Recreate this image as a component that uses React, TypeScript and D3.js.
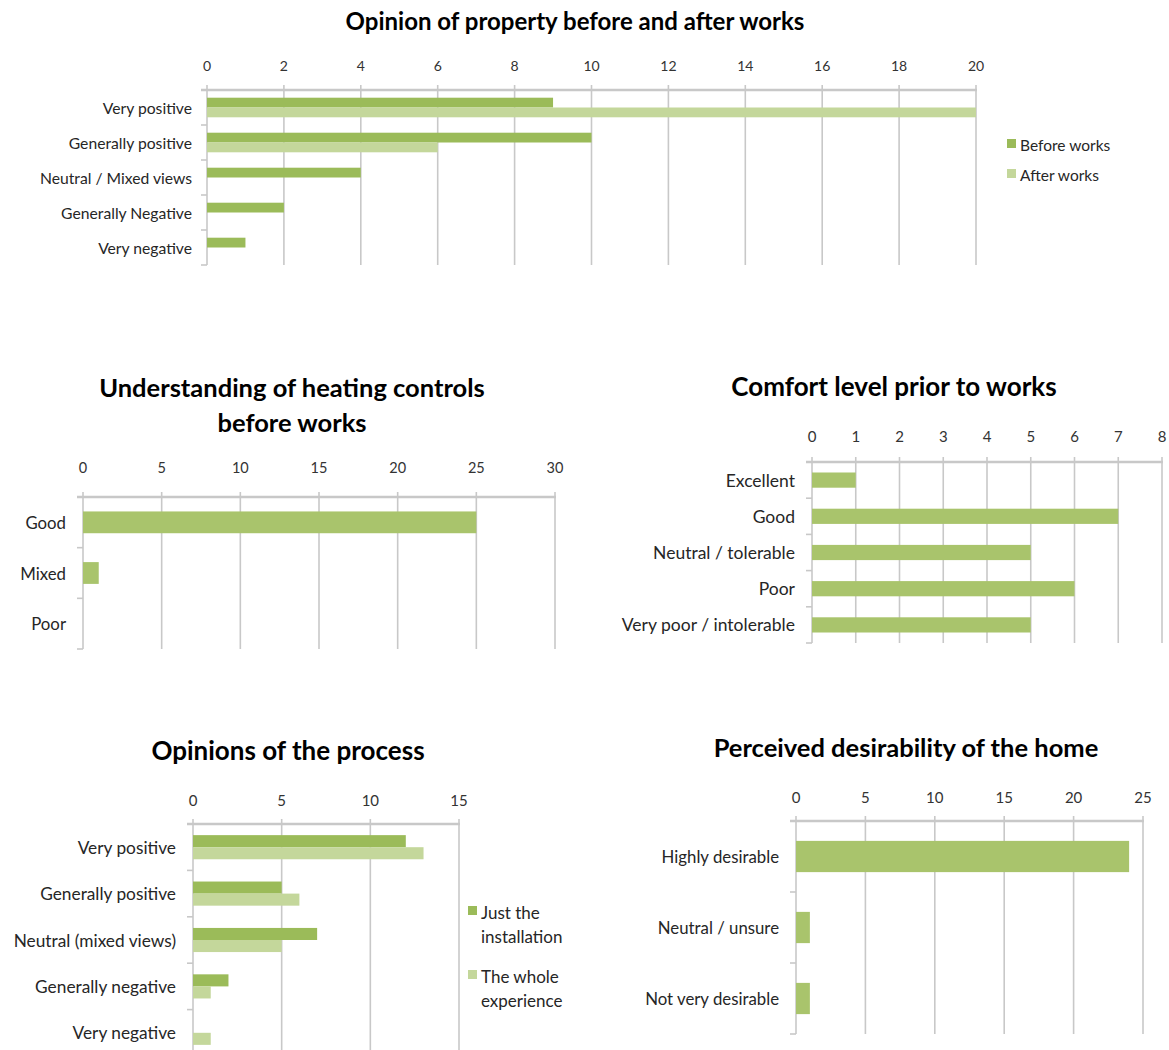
import React from "react";
import * as d3 from "d3";

// ---- Opinion of property before and after works ----
const opinionCategories = ["Very positive", "Generally positive", "Neutral / Mixed views", "Generally Negative", "Very negative"];
const opinionBefore = [9, 10, 4, 2, 1];
const opinionAfter = [20, 6, 0, 0, 0];
const opinionTicks = [0, 2, 4, 6, 8, 10, 12, 14, 16, 18, 20];
const opinionSeries = ["Before works", "After works"];

// ---- Understanding of heating controls before works ----
const controlsCategories = ["Good", "Mixed", "Poor"];
const controlsValues = [25, 1, 0];
const controlsTicks = [0, 5, 10, 15, 20, 25, 30];

// ---- Comfort level prior to works ----
const comfortCategories = ["Excellent", "Good", "Neutral / tolerable", "Poor", "Very poor / intolerable"];
const comfortValues = [1, 7, 5, 6, 5];
const comfortTicks = [0, 1, 2, 3, 4, 5, 6, 7, 8];

// ---- Opinions of the process ----
const processCategories = ["Very positive", "Generally positive", "Neutral (mixed views)", "Generally negative", "Very negative"];
const processInstallation = [12, 5, 7, 2, 0];
const processWhole = [13, 6, 5, 1, 1];
const processTicks = [0, 5, 10, 15];
const processSeries = [["Just the", "installation"], ["The whole", "experience"]];

// ---- Perceived desirability of the home ----
const desirCategories = ["Highly desirable", "Neutral / unsure", "Not very desirable"];
const desirValues = [24, 1, 1];
const desirTicks = [0, 5, 10, 15, 20, 25];

const DARK = "#9bbb59";
const LIGHT = "#c4d79b";
const SINGLE = "#a9c46c";
const GRID = "#c8c8c8";
const FONT = "Lato, 'Open Sans', sans-serif";

type PanelProps = {
  title: string[];
  titleX: number;
  titleY: number;
  titleSize: number;
  labelSize: number;
  tickSize: number;
  legendSize?: number;
  categories: string[];
  series: number[][];
  colors: string[];
  ticks: number[];
  x0: number;
  x1: number;
  top: number;
  bottom: number;
  tickY: number;
  labelX: number;
  groupFrac: number;
  legend?: { x: number; ys: number[]; labels: string[][]; lineGap: number };
};

function Panel(p: PanelProps) {
  const xMax = p.ticks[p.ticks.length - 1];
  const x = d3.scaleLinear().domain([0, xMax]).range([p.x0, p.x1]);
  const y = d3.scaleBand<string>().domain(p.categories).range([p.top, p.bottom]).padding(0);
  const bw = y.bandwidth();
  const groupH = bw * p.groupFrac;
  const sub = d3
    .scaleBand<number>()
    .domain(d3.range(p.series.length))
    .range([0, groupH]);
  const boundaries = d3.range(p.categories.length + 1).map((i) => p.top + i * bw);

  return (
    <g>
      {p.title.map((t, i) => (
        <text
          key={i}
          x={p.titleX}
          y={p.titleY + i * 35}
          textAnchor="middle"
          dominantBaseline="central"
          fontFamily={FONT}
          fontWeight={700}
          fontSize={p.titleSize}
          fill="#000"
        >
          {t}
        </text>
      ))}
      {/* vertical gridlines */}
      {p.ticks.map((t) => (
        <line key={"g" + t} x1={x(t)} x2={x(t)} y1={p.top - 5} y2={p.bottom} stroke={GRID} strokeWidth={1.6} />
      ))}
      {/* top axis line */}
      <line x1={p.x0 - 6} x2={p.x1 + 1} y1={p.top} y2={p.top} stroke={GRID} strokeWidth={2.4} />
      {/* category tick marks */}
      {boundaries.map((b, i) => (
        <line key={"c" + i} x1={p.x0 - 6} x2={p.x0} y1={b} y2={b} stroke={GRID} strokeWidth={1.6} />
      ))}
      {/* tick labels */}
      {p.ticks.map((t) => (
        <text
          key={"t" + t}
          x={x(t)}
          y={p.tickY}
          textAnchor="middle"
          dominantBaseline="central"
          fontFamily={FONT}
          fontSize={p.tickSize}
          fill="#333"
        >
          {t}
        </text>
      ))}
      {/* bars */}
      {p.series.map((vals, s) =>
        vals.map((v, i) => {
          const cat = p.categories[i];
          const yy = (y(cat) as number) + (bw - groupH) / 2 + (sub(s) as number);
          return v > 0 ? (
            <rect key={"b" + s + "-" + i} x={x(0)} y={yy} width={x(v) - x(0)} height={sub.bandwidth()} fill={p.colors[s]} />
          ) : null;
        })
      )}
      {/* category labels */}
      {p.categories.map((c) => (
        <text
          key={"l" + c}
          x={p.labelX}
          y={(y(c) as number) + bw / 2}
          textAnchor="end"
          dominantBaseline="central"
          fontFamily={FONT}
          fontSize={p.labelSize}
          fill="#262626"
        >
          {c}
        </text>
      ))}
      {p.legend &&
        p.legend.labels.map((lines, i) => (
          <g key={"lg" + i}>
            <rect x={p.legend!.x} y={p.legend!.ys[i] - 6} width={9} height={9} fill={p.colors[i]} />
            {lines.map((ln, k) => (
              <text
                key={k}
                x={p.legend!.x + 13}
                y={p.legend!.ys[i] + k * p.legend!.lineGap}
                dominantBaseline="central"
                fontFamily={FONT}
                fontSize={p.legendSize}
                fill="#262626"
              >
                {ln}
              </text>
            ))}
          </g>
        ))}
    </g>
  );
}

export default function App() {
  return (
    <svg
      width={1169}
      height={1050}
      style={{ position: "absolute", left: 0, top: 0, background: "#fff" }}
    >
      <rect width={1169} height={1050} fill="#fff" />
      <Panel
        title={["Opinion of property before and after works"]}
        titleX={575}
        titleY={20}
        titleSize={24}
        labelSize={15.7}
        tickSize={14}
        legendSize={15.5}
        categories={opinionCategories}
        series={[opinionBefore, opinionAfter]}
        colors={[DARK, LIGHT]}
        ticks={opinionTicks}
        x0={207}
        x1={976}
        top={90}
        bottom={265}
        tickY={65}
        labelX={192}
        groupFrac={0.56}
        legend={{ x: 1007, ys: [145, 175], labels: opinionSeries.map((s) => [s]), lineGap: 0 }}
      />
      <Panel
        title={["Understanding of heating controls", "before works"]}
        titleX={292}
        titleY={387}
        titleSize={25.5}
        labelSize={16.8}
        tickSize={14.5}
        categories={controlsCategories}
        series={[controlsValues]}
        colors={[SINGLE]}
        ticks={controlsTicks}
        x0={83}
        x1={555}
        top={497}
        bottom={649}
        tickY={467}
        labelX={66}
        groupFrac={0.43}
      />
      <Panel
        title={["Comfort level prior to works"]}
        titleX={894}
        titleY={386}
        titleSize={26}
        labelSize={17.5}
        tickSize={15}
        categories={comfortCategories}
        series={[comfortValues]}
        colors={[SINGLE]}
        ticks={comfortTicks}
        x0={812}
        x1={1162}
        top={462}
        bottom={643}
        tickY={436}
        labelX={795}
        groupFrac={0.42}
      />
      <Panel
        title={["Opinions of the process"]}
        titleX={288}
        titleY={750}
        titleSize={26}
        labelSize={17.3}
        tickSize={15}
        legendSize={17}
        categories={processCategories}
        series={[processInstallation, processWhole]}
        colors={[DARK, LIGHT]}
        ticks={processTicks}
        x0={193}
        x1={459}
        top={824}
        bottom={1056}
        tickY={800}
        labelX={176}
        groupFrac={0.52}
        legend={{ x: 468, ys: [912, 976], labels: processSeries, lineGap: 24 }}
      />
      <Panel
        title={["Perceived desirability of the home"]}
        titleX={906}
        titleY={747}
        titleSize={25.5}
        labelSize={16.8}
        tickSize={15}
        categories={desirCategories}
        series={[desirValues]}
        colors={[SINGLE]}
        ticks={desirTicks}
        x0={796}
        x1={1143}
        top={821}
        bottom={1034}
        tickY={797}
        labelX={779}
        groupFrac={0.44}
      />
    </svg>
  );
}
